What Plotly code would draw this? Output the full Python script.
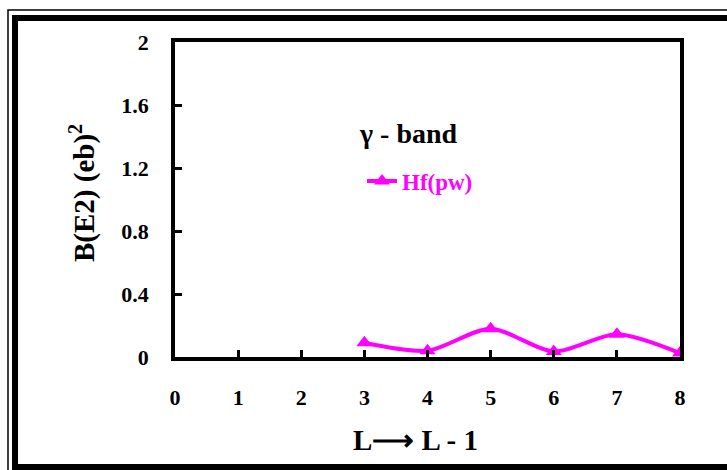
import plotly.graph_objects as go

# Data
L_values = [3, 4, 5, 6, 7, 8]
BE2_values = [0.09, 0.04, 0.18, 0.035, 0.145, 0.025]
x_ticks = [0, 1, 2, 3, 4, 5, 6, 7, 8]
y_ticks = [0, 0.4, 0.8, 1.2, 1.6, 2]
y_tick_labels = ["0", "0.4", "0.8", "1.2", "1.6", "2"]
series_name = "Hf(pw)"

W, H = 727, 470
L, R, T, B = 175, 680, 42, 357

def px(x):
    return (x - L) / (R - L)

def py(y):
    return (B - y) / (B - T)

FONT = "Liberation Serif"
MAG = "#FF00FF"

fig = go.Figure()
fig.add_trace(go.Scatter(
    x=L_values, y=BE2_values, mode="lines+markers", name=series_name,
    line=dict(color=MAG, width=4, shape="spline", smoothing=0.8),
    marker=dict(symbol="triangle-up", size=14, color=MAG),
))

fig.update_layout(
    width=W, height=H,
    margin=dict(l=L, r=W - R, t=T, b=H - B),
    paper_bgcolor="white", plot_bgcolor="white",
    showlegend=True,
    legend=dict(x=px(362), y=py(181), xanchor="left", yanchor="middle",
                bgcolor="rgba(0,0,0,0)",
                font=dict(family=FONT, size=23, color=MAG, weight="bold")),
    font=dict(family=FONT, color="black"),
)

axis_common = dict(showline=True, linecolor="black", linewidth=3.5, mirror=True,
                   ticks="inside", ticklen=7, tickwidth=3, tickcolor="black",
                   showgrid=False, zeroline=False,
                   tickfont=dict(family=FONT, size=22, color="black", weight="bold"))

fig.update_xaxes(range=[0, 8], tickvals=x_ticks, ticktext=[str(v) for v in x_ticks],
                 ticklabelstandoff=18, **axis_common)
fig.update_yaxes(range=[0, 2], tickvals=y_ticks, ticktext=y_tick_labels,
                 ticklabelstandoff=18, **axis_common)

fig.add_annotation(text="γ - band", x=px(408), y=py(133), xref="paper", yref="paper",
                   xanchor="center", yanchor="middle", showarrow=False,
                   font=dict(family=FONT, size=28, color="black", weight="bold"))
fig.add_annotation(text="B(E2) (eb)<sup>2</sup>", x=px(82), y=py(193), xref="paper", yref="paper",
                   xanchor="center", yanchor="middle", textangle=-90, showarrow=False,
                   font=dict(family=FONT, size=29, color="black", weight="bold"))
fig.add_annotation(text="L\u27f6 L - 1", x=px(415), y=py(440), xref="paper", yref="paper",
                   xanchor="center", yanchor="middle", showarrow=False,
                   font=dict(family=FONT, size=29, color="black", weight="bold"))

# Frame around the chart
fig.add_shape(type="rect", xref="paper", yref="paper",
              x0=px(8), x1=px(745), y0=py(485), y1=py(10),
              line=dict(color="black", width=1.5), fillcolor="rgba(0,0,0,0)", layer="above")
fig.add_shape(type="rect", xref="paper", yref="paper",
              x0=px(15), x1=px(745), y0=py(467), y1=py(18),
              line=dict(color="black", width=6), fillcolor="rgba(0,0,0,0)", layer="above")

fig.write_html("out.html")
